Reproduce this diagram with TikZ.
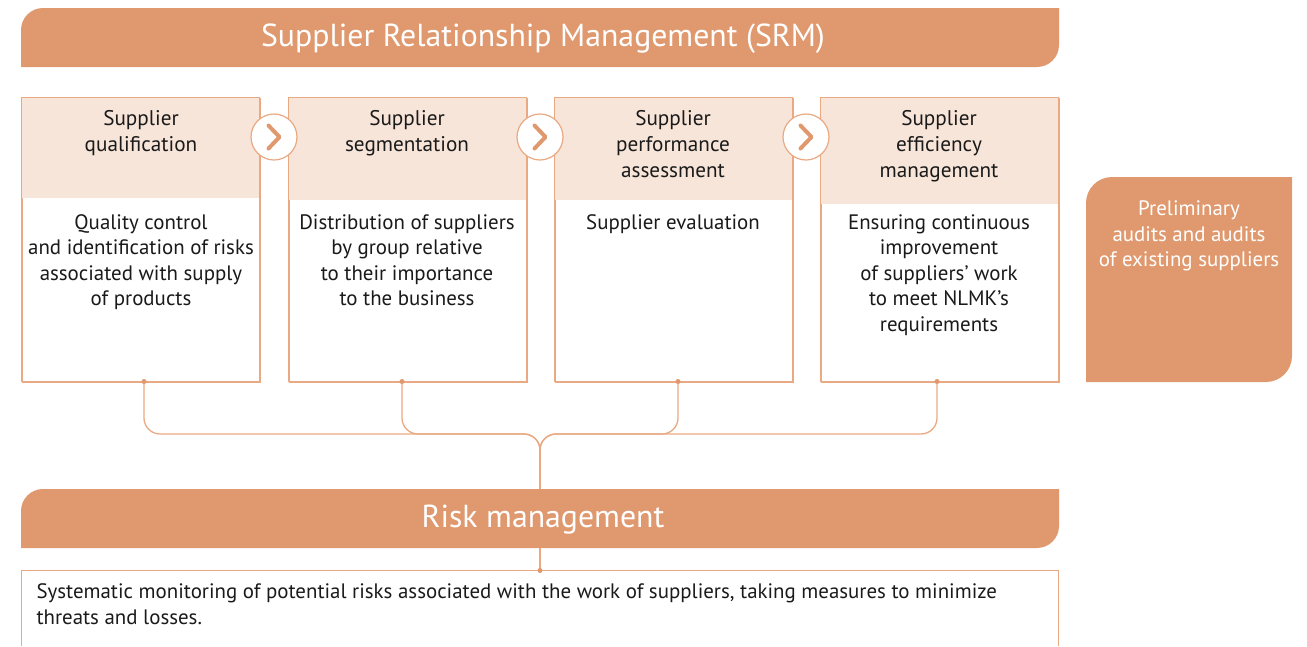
\documentclass[tikz,border=0pt]{standalone}
\usepackage{fontspec}
\setmainfont{PT Sans}
\definecolor{banner}{HTML}{E0996E}
\definecolor{hdrfill}{HTML}{F7E5D9}
\definecolor{edge}{HTML}{E9A982}
\definecolor{txt}{HTML}{1A1A1A}
\begin{document}
\begin{tikzpicture}[x=1pt,y=-1pt,
  box/.style={draw=edge, line width=1.2pt, fill=white, minimum width=238, minimum height=284, anchor=north west, inner sep=0pt},
  hdr/.style={fill=hdrfill, minimum width=238, anchor=north west, inner sep=0pt},
  hdrtext/.style={text=txt, align=center, font=\fontsize{21.2}{25.8}\selectfont, anchor=north},
  bodytext/.style={text=txt, align=center, font=\fontsize{20.9}{25.5}\selectfont, anchor=north},
  bannertext/.style={text=white, font=\fontsize{31.8}{36}\selectfont},
  chev/.style={draw=edge, line width=1.2pt, fill=white, circle, minimum size=46, inner sep=0pt},
  chevline/.style={draw=banner, line width=4pt, line cap=round, line join=round},
  conn/.style={draw=edge, line width=1.3pt, rounded corners=16},
  dot/.style={circle, fill=banner, minimum size=5, inner sep=0pt}
]
\useasboundingbox (0,0) rectangle (1307,646);
% top banner
\fill[banner] (21,67) [rounded corners=22]-- (21,8) [sharp corners]-- (1059,8) [rounded corners=22]-- (1059,67) [sharp corners]-- cycle;
\node[bannertext] (srm) at (543,38.5) {Supplier Relationship Management (SRM)};

% boxes
\node[box] (b1) at (21.5,97.5) {};
\node[box] (b2) at (288.5,97.5) {};
\node[box] (b3) at (554.5,97.5) {};
\node[box] (b4) at (820.5,97.5) {};
\node[hdr, minimum height=100] (h1) at (22,98) {};
\node[hdr, minimum height=102] (h2) at (289,98) {};
\node[hdr, minimum height=102] (h3) at (555,98) {};
\node[hdr, minimum height=106] (h4) at (821,98) {};
\draw[edge, line width=1.2pt] (21.5,97.5) rectangle (259.5,381.5);
\draw[edge, line width=1.2pt] (288.5,97.5) rectangle (526.5,381.5);
\draw[edge, line width=1.2pt] (554.5,97.5) rectangle (792.5,381.5);
\draw[edge, line width=1.2pt] (820.5,97.5) rectangle (1058.5,381.5);

\node[hdrtext] (t1) at (141,107) {Supplier\\qualification};
\node[hdrtext] (t2) at (407,107) {Supplier\\segmentation};
\node[hdrtext] (t3) at (673,107) {Supplier\\performance\\assessment};
\node[hdrtext] (t4) at (939,107) {Supplier\\efficiency\\management};

\node[bodytext] (d1) at (141,211) {Quality control\\and identification of risks\\associated with supply\\of products};
\node[bodytext] (d2) at (407,211) {Distribution of suppliers\\by group relative\\to their importance\\to the business};
\node[bodytext] (d3) at (673,211) {Supplier evaluation};
\node[bodytext] (d4) at (939,211) {Ensuring continuous\\improvement\\of suppliers’ work\\to meet NLMK’s\\requirements};

% chevron circles
\foreach \n/\x in {c1/274,c2/540,c3/806}{
  \node[chev] (\n) at (\x,137) {};
  \draw[chevline] ([xshift=-5.5,yshift=-11.5]\n.center) -- ([xshift=5.5]\n.center) -- ([xshift=-5.5,yshift=11.5]\n.center);
}

% right box
\fill[banner] (1086,382) [rounded corners=26]-- (1086,177) [sharp corners]-- (1292,177) [rounded corners=26]-- (1292,382) [sharp corners]-- cycle;
\node[text=white, align=center, font=\fontsize{20.9}{25.8}\selectfont, anchor=north] (pre) at (1189,197) {Preliminary\\audits and audits\\of existing suppliers};

% risk banner
\fill[banner] (21,548) [rounded corners=22]-- (21,489) [sharp corners]-- (1059,489) [rounded corners=22]-- (1059,548) [sharp corners]-- cycle;
\node[bannertext] (risk) at (543,519.5) {Risk management};
\coordinate (rtop) at (540,489);
\coordinate (rbot) at (540,548);

% bottom box
\draw[edge, line width=1.2pt] (21.5,646) -- (21.5,570.5) -- (1058.5,570.5) -- (1058.5,646);
\coordinate (btop) at (540,570.5);
\node[text=txt, align=left, anchor=north west, font=\fontsize{20.9}{25.8}\selectfont] (rd) at (33,580) {Systematic monitoring of potential risks associated with the work of suppliers, taking measures to minimize\\threats and losses.};

% connectors
\coordinate (p1) at (144,381.5);
\coordinate (p2) at (402,381.5);
\coordinate (p3) at (678,381.5);
\coordinate (p4) at (937,381.5);
\coordinate (m) at (540,452);
\draw[conn] (p1) -- (144,434) -- (540,434) -- (m);
\draw[conn] (p2) -- (402,434) -- (540,434) -- (m);
\draw[conn] (p3) -- (678,434) -- (540,434) -- (m);
\draw[conn] (p4) -- (937,434) -- (540,434) -- (m);
\draw[edge, line width=1.3pt] (m) -- (rtop);
\draw[edge, line width=1.3pt] (rbot) -- (btop);
\foreach \p in {p1,p2,p3,p4,btop} \node[dot] at (\p) {};
\end{tikzpicture}
\end{document}
